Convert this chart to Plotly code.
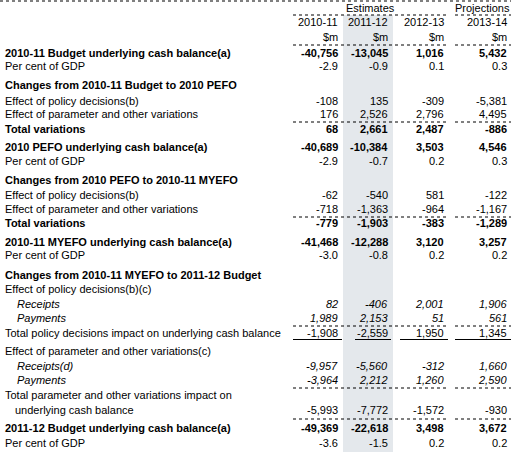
import plotly.graph_objects as go

years = ["2010-11", "2011-12", "2012-13", "2013-14"]
row_labels = [
    "2010-11 Budget underlying cash balance(a)", "Per cent of GDP",
    "Changes from 2010-11 Budget to 2010 PEFO", "Effect of policy decisions(b)",
    "Effect of parameter and other variations", "Total variations",
    "2010 PEFO underlying cash balance(a)", "Per cent of GDP",
    "Changes from 2010 PEFO to 2010-11 MYEFO", "Effect of policy decisions(b)",
    "Effect of parameter and other variations", "Total variations",
    "2010-11 MYEFO underlying cash balance(a)", "Per cent of GDP",
    "Changes from 2010-11 MYEFO to 2011-12 Budget", "Effect of policy decisions(b)(c)",
    "Receipts", "Payments", "Total policy decisions impact on underlying cash balance",
    "Effect of parameter and other variations(c)", "Receipts(d)", "Payments",
    "Total parameter and other variations impact on", "underlying cash balance",
    "2011-12 Budget underlying cash balance(a)", "Per cent of GDP",
]
values = [
    ["-40,756", "-13,045", "1,016", "5,432"], ["-2.9", "-0.9", "0.1", "0.3"],
    None, ["-108", "135", "-309", "-5,381"], ["176", "2,526", "2,796", "4,495"],
    ["68", "2,661", "2,487", "-886"],
    ["-40,689", "-10,384", "3,503", "4,546"], ["-2.9", "-0.7", "0.2", "0.3"],
    None, ["-62", "-540", "581", "-122"], ["-718", "-1,363", "-964", "-1,167"],
    ["-779", "-1,903", "-383", "-1,289"],
    ["-41,468", "-12,288", "3,120", "3,257"], ["-3.0", "-0.8", "0.2", "0.2"],
    None, None, ["82", "-406", "2,001", "1,906"], ["1,989", "2,153", "51", "561"],
    ["-1,908", "-2,559", "1,950", "1,345"],
    None, ["-9,957", "-5,560", "-312", "1,660"], ["-3,964", "2,212", "1,260", "2,590"],
    None, ["-5,993", "-7,772", "-1,572", "-930"],
    ["-49,369", "-22,618", "3,498", "3,672"], ["-3.6", "-1.5", "0.2", "0.2"],
]
styles = ["b", "n", "b", "n", "n", "b", "b", "n", "b", "n", "n", "b", "b", "n", "b", "n",
          "i", "i", "n", "n", "i", "i", "n", "n", "b", "n"]
indent = [0]*16 + [1, 1, 0, 0, 1, 1, 0, 0.8, 0, 0]

row_y = [53, 66, 85, 101, 114, 129, 147, 161, 180, 195, 209, 223, 242, 255, 275, 289,
         304, 318, 333, 351, 366, 380, 395, 410, 428, 443]
col_x = [340, 390, 446, 509]

fig = go.Figure()
ann = []
def txt(x, y, s, anchor="left", bold=False, italic=False):
    if bold: s = "<b>" + s + "</b>"
    if italic: s = "<i>" + s + "</i>"
    ann.append(dict(x=x, y=y, text=s, xanchor=anchor, yanchor="middle", showarrow=False,
                    font=dict(family="Liberation Sans, Arial", size=11, color="#000")))

for lab, v, st, ind, y in zip(row_labels, values, styles, indent, row_y):
    txt(3 + ind*12, y, lab, bold=(st == "b"), italic=(st == "i"))
    if v:
        for s, x in zip(v, col_x):
            txt(x, y, s, "right", bold=(st == "b"), italic=(st == "i"))

txt(370, 8, "Estimates", "center")
txt(482, 8, "Projections", "center")
for yr, x in zip(years, col_x):
    txt(x, 22, yr, "right")
    txt(x, 37, "$m", "right")

shapes = [dict(type="rect", x0=343, x1=393, y0=15, y1=452, fillcolor="#e4e8ec",
               line_width=0, layer="below")]
def dot(y, segs=((293, 448), (455, 511))):
    for a, b in segs:
        shapes.append(dict(type="line", x0=a, x1=b, y0=y, y1=y,
                           line=dict(color="#000", width=1, dash="dot")))
dot(1, ((0, 511),))
dot(15)
dot(45)
for y in [122, 217, 326, 388, 419]:
    dot(y)
for a, b in [(293, 342), (355, 391), (400, 448), (455, 511)]:
    shapes.append(dict(type="line", x0=a, x1=b, y0=339.5, y1=339.5,
                       line=dict(color="#000", width=1)))

fig.update_layout(width=511, height=452, margin=dict(l=0, r=0, t=0, b=0),
                  plot_bgcolor="white", paper_bgcolor="white",
                  xaxis=dict(range=[0, 511], visible=False, fixedrange=True),
                  yaxis=dict(range=[452, 0], visible=False, fixedrange=True),
                  annotations=ann, shapes=shapes, showlegend=False)
fig.write_html("out.html", config={"displayModeBar": False},
               post_script="document.body.style.margin='0';document.body.style.overflow='hidden';")
